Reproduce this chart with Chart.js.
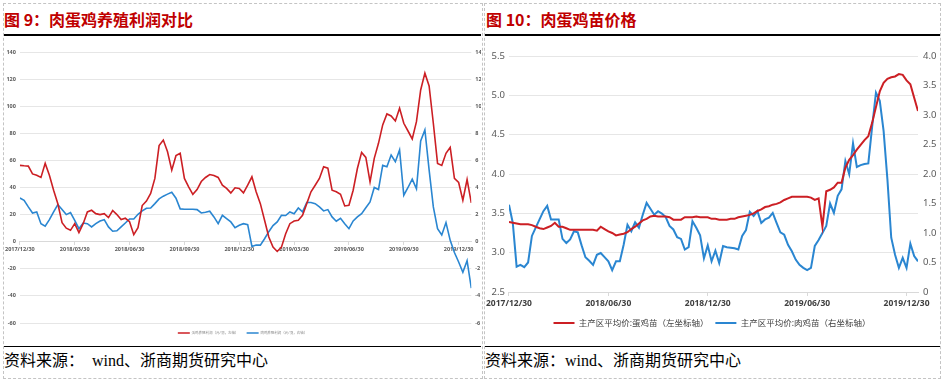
<!DOCTYPE html>
<html><head><meta charset="utf-8">
<script src="https://cdn.jsdelivr.net/npm/chart.js@4.4.1/dist/chart.umd.min.js"></script>
<style>
html,body{margin:0;padding:0;background:#fff;}
body{width:943px;height:382px;position:relative;overflow:hidden;font-family:"Noto Sans CJK SC","Noto Sans",sans-serif;}
.panel{position:absolute;border:1px dashed #c4c4c4;box-sizing:border-box;}
.title{position:absolute;font-weight:bold;font-size:16px;color:#c00000;line-height:18px;white-space:nowrap;}
.rule{position:absolute;height:1.5px;background:#000;}
.src{position:absolute;font-family:"Liberation Serif","Noto Sans CJK SC",serif;font-size:16px;color:#000;line-height:18px;white-space:nowrap;}
canvas{position:absolute;}
</style></head><body>
<div class="panel" style="left:3px;top:3px;width:480px;height:376px"></div>
<div class="panel" style="left:484px;top:3px;width:457px;height:376px"></div>
<div class="title" style="left:4px;top:10px">图 9：肉蛋鸡养殖利润对比</div>
<div class="title" style="left:486px;top:10px">图 10：肉蛋鸡苗价格</div>
<div class="rule" style="left:4px;top:34px;width:477px"></div>
<div class="rule" style="left:485px;top:34px;width:455px"></div>
<div class="rule" style="left:4px;top:345.5px;width:477px"></div>
<div class="rule" style="left:485px;top:345.5px;width:455px"></div>
<div class="src" style="left:4px;top:352px">资料来源：&nbsp; wind、浙商期货研究中心</div>
<div class="src" style="left:485px;top:352px">资料来源：wind、浙商期货研究中心</div>
<canvas id="c1" width="477" height="305" style="left:4px;top:40px"></canvas>
<canvas id="c2" width="456" height="300" style="left:484px;top:40px"></canvas>
<script>
// ---------- data ----------
const xTickLabels1 = ['2017/12/30','2018/03/30','2018/06/30','2018/09/30','2018/12/30','2019/03/30','2019/06/30','2019/09/30','2019/12/30'];
const xTickLabels2 = ['2017/12/30','2018/06/30','2018/12/30','2019/06/30','2019/12/30'];
const legend1 = ['蛋鸡养殖利润（元/羽，左轴）','肉鸡养殖利润（元/羽，右轴）'];
const legend2 = ['主产区平均价:蛋鸡苗（左坐标轴）','主产区平均价:肉鸡苗（右坐标轴）'];

// Fig 9: layer profit (left axis) and broiler profit (right axis), weekly
const layerProfit = [56.3,56,55.8,50,49,47.4,57.8,49,38,28,
 14,10,8.4,13.3,6.7,13.3,22,23.2,20.7,20,
 20.7,17.8,23,20,16.3,17.3,14.8,5.2,10.4,26.7,
 30,35.6,46.7,70.9,75,66.4,52.8,63.5,65.2,46.7,
 40.5,35,38.5,44.4,47.4,49.6,48.9,47.4,41.7,39.3,
 36,39.8,39.3,36,41.7,47.9,36.8,28.1,15.8,3.5,
 -4,-7.2,-4,5.9,13.3,15.3,15.8,19.5,28.1,36.8,
 41.7,46.7,55.3,54.3,38,36.8,35,26.4,26.9,38,
 54,65.9,62.2,44.2,61.5,72.6,86.2,94.3,92.8,89.1,
 98.5,87.4,81.7,75.8,88.6,112,124.4,115,87.4,57.8,
 56.3,65.2,69.6,46.7,43.7,30.6,45.9,28.6];
const broilerProfit = [3.23,3.06,2.57,2.12,2.2,1.33,1.14,1.63,2.2,2.74,
 2.37,2,2.15,1.58,0.96,1.38,1.33,1.09,1.33,1.53,
 1.63,1.09,0.77,0.81,1.09,1.38,1.68,1.68,2.02,2.27,
 2.47,2.49,2.81,3.16,3.36,3.51,3.65,3.21,2.42,2.4,
 2.4,2.4,2.37,2.12,2.17,2.25,1.83,1.33,1.95,1.7,
 1.46,1.04,1.21,1.33,1.26,-0.35,-0.25,-0.25,0.22,0.74,
 1.19,1.46,1.95,1.93,2.2,2.07,2.49,2.2,2.89,2.89,
 2.81,2.57,2.27,2.37,1.83,1.51,1.73,1.33,0.96,1.53,
 1.83,2.07,2.5,2.94,4,3.85,5.63,5.53,6.4,5.9,
 6.77,3.43,4.0,4.62,3.9,7.43,8.25,5.3,2.57,0.96,
 0.49,1.41,0.1,-0.8,-1.5,-2.25,-1.4,-3.43];

// Fig 10: layer chick price (left axis), broiler chick price (right axis), weekly
const layerChick = [3.39,3.38,3.37,3.36,3.36,3.36,3.35,3.33,3.31,3.30,
 3.32,3.34,3.38,3.33,3.33,3.31,3.29,3.29,3.29,3.29,
 3.29,3.29,3.29,3.28,3.33,3.30,3.27,3.25,3.22,3.23,
 3.24,3.26,3.30,3.33,3.37,3.41,3.43,3.46,3.47,3.46,
 3.46,3.46,3.45,3.42,3.42,3.42,3.45,3.45,3.45,3.46,
 3.45,3.45,3.45,3.43,3.43,3.42,3.42,3.42,3.43,3.43,
 3.45,3.46,3.47,3.48,3.50,3.53,3.55,3.58,3.59,3.61,
 3.62,3.64,3.67,3.69,3.71,3.71,3.71,3.71,3.71,3.70,
 3.67,3.69,3.33,3.78,3.80,3.83,3.89,3.89,4.08,4.18,
 4.24,4.31,4.37,4.43,4.48,4.65,4.85,5.05,5.16,5.21,
 5.23,5.24,5.27,5.26,5.19,5.14,4.97,4.80];
const broilerChick = [1.48,1.17,0.43,0.46,0.42,0.50,0.95,1.09,1.23,1.37,
 1.46,1.23,1.23,1.23,0.90,0.83,0.89,1.03,1.01,0.79,
 0.59,0.53,0.46,0.63,0.66,0.59,0.52,0.37,0.52,0.52,
 0.80,1.14,1.03,1.18,1.09,1.31,1.51,1.41,1.31,1.37,
 1.33,1.27,1.12,1.06,0.93,0.90,0.72,0.76,1.20,1.09,
 0.96,0.57,0.79,0.52,0.70,0.49,0.78,0.76,0.75,0.74,
 0.72,0.95,1.05,1.36,1.29,1.37,1.17,1.23,1.26,1.34,
 1.17,1.01,0.97,0.80,0.69,0.55,0.46,0.41,0.37,0.41,
 0.78,0.88,1.00,1.12,1.50,1.34,1.63,1.74,2.22,2.00,
 2.52,2.12,2.15,2.17,2.18,2.80,3.38,3.24,2.73,1.91,
 0.92,0.63,0.41,0.58,0.41,0.82,0.61,0.52];

// ---------- charts ----------
const RED = '#cc1f24', BLUE = '#2a86d1';
const pts = arr => arr.map((v, i) => ({x: i, y: v}));
Chart.defaults.font.family = '"Noto Sans","Noto Sans CJK SC",sans-serif';
Chart.defaults.animation = false;

new Chart(document.getElementById('c1'), {
  type: 'line',
  data: { datasets: [
    {label: legend1[0], data: pts(layerProfit), yAxisID: 'y', borderColor: RED, backgroundColor: RED, borderWidth: 1.6, pointRadius: 0, tension: 0},
    {label: legend1[1], data: pts(broilerProfit), yAxisID: 'y1', borderColor: BLUE, backgroundColor: BLUE, borderWidth: 1.6, pointRadius: 0, tension: 0}
  ]},
  options: {
    responsive: false, devicePixelRatio: 1,
    layout: {padding: {top: 12, bottom: 0.25, left: 0, right: 0}},
    plugins: {
      tooltip: {enabled: false},
      legend: {position: 'bottom', labels: {font: {size: 3.5}, color: '#8a8a8a', usePointStyle: true, pointStyle: 'line', pointStyleWidth: 12, padding: 8.25}}
    },
    scales: {
      x: {type: 'linear', position: {y: 0}, min: 0, max: layerProfit.length - 1,
        ticks: {stepSize: 13, includeBounds: false, autoSkip: false, maxRotation: 0, padding: 1,
          callback: v => { const k = v / 13; return Number.isInteger(k) && xTickLabels1[k] ? xTickLabels1[k] : ''; },
          font: {size: 5.5, weight: 'bold'}, color: '#595959'},
        grid: {drawOnChartArea: false, drawTicks: true, tickLength: 3, color: '#d9d9d9'},
        border: {color: '#d9d9d9'}},
      y: {position: 'left', min: -60, max: 140,
        ticks: {stepSize: 20, font: {size: 5.5, weight: 'bold'}, color: '#595959', padding: 4},
        grid: {color: '#e6e6e6', drawTicks: false}, border: {display: false},
        afterFit: s => { s.width = 15.3; }},
      y1: {position: 'right', min: -6, max: 14,
        ticks: {stepSize: 2, font: {size: 5.5, weight: 'bold'}, color: '#595959', padding: 4},
        grid: {drawOnChartArea: false, drawTicks: false}, border: {display: false},
        afterFit: s => { s.width = 9.7; }}
    }
  }
});

new Chart(document.getElementById('c2'), {
  type: 'line',
  data: { datasets: [
    {label: legend2[0], data: pts(layerChick), yAxisID: 'y', borderColor: RED, backgroundColor: RED, borderWidth: 2, pointRadius: 0, tension: 0},
    {label: legend2[1], data: pts(broilerChick), yAxisID: 'y1', borderColor: BLUE, backgroundColor: BLUE, borderWidth: 2, pointRadius: 0, tension: 0}
  ]},
  options: {
    responsive: false, devicePixelRatio: 1,
    layout: {padding: {top: 16, bottom: 2.75, left: 0, right: 0}},
    plugins: {
      tooltip: {enabled: false},
      legend: {position: 'bottom', labels: {font: {size: 8.5, family: '"Noto Sans CJK SC",sans-serif'}, color: '#404040', usePointStyle: true, pointStyle: 'line', pointStyleWidth: 21, padding: 6.75}}
    },
    scales: {
      x: {type: 'linear', min: 0, max: layerChick.length - 1,
        ticks: {stepSize: 26, includeBounds: false, autoSkip: false, maxRotation: 0, padding: 2,
          callback: v => { const k = v / 26; return Number.isInteger(k) && xTickLabels2[k] ? xTickLabels2[k] : ''; },
          font: {size: 8.5, weight: 'bold'}, color: '#404040'},
        grid: {drawOnChartArea: false, drawTicks: true, tickLength: 4, color: '#d9d9d9'},
        border: {color: '#d9d9d9'},
        afterFit: s => { s.height = 20; }},
      y: {position: 'left', min: 2.5, max: 5.5,
        ticks: {stepSize: 0.5, font: {size: 9.5}, color: '#595959', padding: 4},
        grid: {color: '#e6e6e6', drawTicks: false}, border: {display: false},
        afterFit: s => { s.width = 22; }},
      y1: {position: 'right', min: 0, max: 4,
        ticks: {stepSize: 0.5, font: {size: 9.5}, color: '#595959', padding: 5},
        grid: {drawOnChartArea: false, drawTicks: false}, border: {display: false},
        afterFit: s => { s.width = 22; }}
    }
  }
});
</script>
</body></html>
